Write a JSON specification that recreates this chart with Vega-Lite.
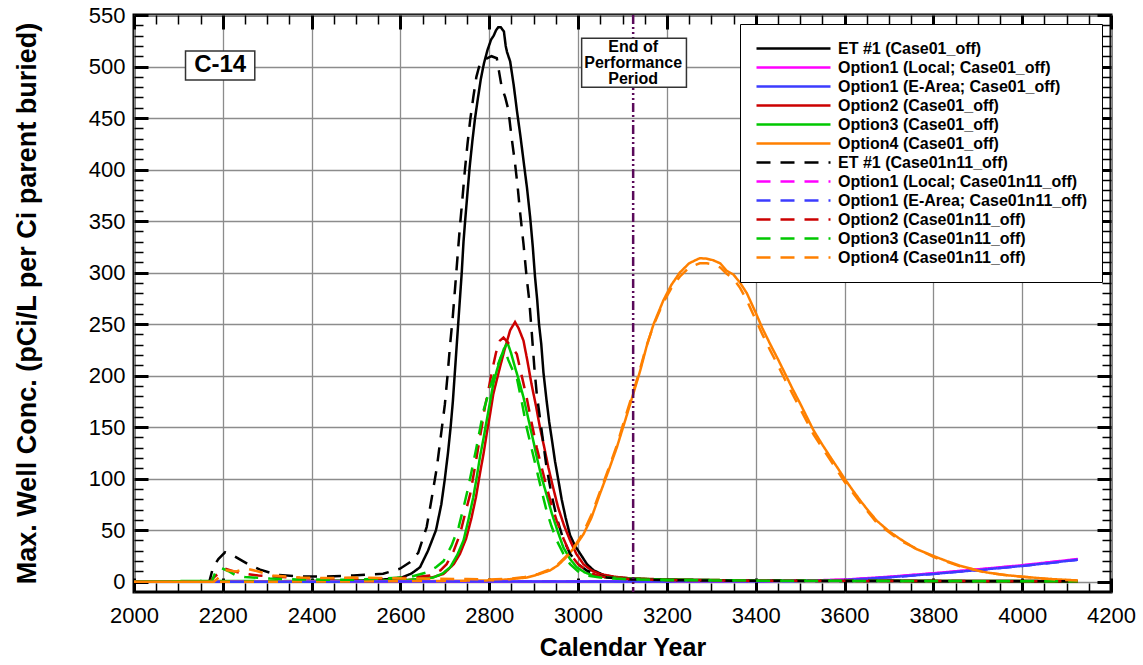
{
"$schema":"https://vega.github.io/schema/vega-lite/v6.json",
"width":977,"height":577,
"autosize":{"type":"none"},
"padding":{"left":134,"top":15,"right":32,"bottom":73},
"background":"white",
"config":{"view":{"stroke":"black","strokeWidth":3},"font":"Liberation Sans"},
"resolve":{"axis":{"x":"independent","y":"independent"}},
"layer":[
{"data":{"values":[
{"s":"ET #1 (Case01_off)","x":2000,"y":0},{"s":"ET #1 (Case01_off)","x":2100,"y":0},{"s":"ET #1 (Case01_off)","x":2200,"y":0.2},{"s":"ET #1 (Case01_off)","x":2300,"y":0.4},{"s":"ET #1 (Case01_off)","x":2400,"y":0.6},{"s":"ET #1 (Case01_off)","x":2500,"y":1},{"s":"ET #1 (Case01_off)","x":2550,"y":1.8},{"s":"ET #1 (Case01_off)","x":2580,"y":2.8},{"s":"ET #1 (Case01_off)","x":2603,"y":4},{"s":"ET #1 (Case01_off)","x":2625,"y":8},{"s":"ET #1 (Case01_off)","x":2644,"y":14},{"s":"ET #1 (Case01_off)","x":2662,"y":30},{"s":"ET #1 (Case01_off)","x":2680,"y":50},{"s":"ET #1 (Case01_off)","x":2692,"y":75},{"s":"ET #1 (Case01_off)","x":2700,"y":100},{"s":"ET #1 (Case01_off)","x":2707,"y":125},{"s":"ET #1 (Case01_off)","x":2713,"y":150},{"s":"ET #1 (Case01_off)","x":2718,"y":175},{"s":"ET #1 (Case01_off)","x":2722,"y":200},{"s":"ET #1 (Case01_off)","x":2726,"y":225},{"s":"ET #1 (Case01_off)","x":2730,"y":250},{"s":"ET #1 (Case01_off)","x":2734,"y":275},{"s":"ET #1 (Case01_off)","x":2738,"y":300},{"s":"ET #1 (Case01_off)","x":2742,"y":330},{"s":"ET #1 (Case01_off)","x":2746,"y":352},{"s":"ET #1 (Case01_off)","x":2751,"y":378},{"s":"ET #1 (Case01_off)","x":2756,"y":403},{"s":"ET #1 (Case01_off)","x":2762,"y":428},{"s":"ET #1 (Case01_off)","x":2768,"y":450},{"s":"ET #1 (Case01_off)","x":2774,"y":468},{"s":"ET #1 (Case01_off)","x":2781,"y":488},{"s":"ET #1 (Case01_off)","x":2788,"y":503},{"s":"ET #1 (Case01_off)","x":2796,"y":516},{"s":"ET #1 (Case01_off)","x":2804,"y":526},{"s":"ET #1 (Case01_off)","x":2810,"y":530},{"s":"ET #1 (Case01_off)","x":2815,"y":535},{"s":"ET #1 (Case01_off)","x":2820,"y":538},{"s":"ET #1 (Case01_off)","x":2826,"y":538},{"s":"ET #1 (Case01_off)","x":2833,"y":534},{"s":"ET #1 (Case01_off)","x":2837,"y":520},{"s":"ET #1 (Case01_off)","x":2840,"y":514},{"s":"ET #1 (Case01_off)","x":2847,"y":505},{"s":"ET #1 (Case01_off)","x":2855,"y":482},{"s":"ET #1 (Case01_off)","x":2862,"y":458},{"s":"ET #1 (Case01_off)","x":2870,"y":433},{"s":"ET #1 (Case01_off)","x":2877,"y":409},{"s":"ET #1 (Case01_off)","x":2885,"y":382},{"s":"ET #1 (Case01_off)","x":2892,"y":354},{"s":"ET #1 (Case01_off)","x":2898,"y":325},{"s":"ET #1 (Case01_off)","x":2903,"y":296},{"s":"ET #1 (Case01_off)","x":2908,"y":273},{"s":"ET #1 (Case01_off)","x":2912,"y":250},{"s":"ET #1 (Case01_off)","x":2917,"y":231},{"s":"ET #1 (Case01_off)","x":2922,"y":203},{"s":"ET #1 (Case01_off)","x":2929,"y":176},{"s":"ET #1 (Case01_off)","x":2935,"y":155},{"s":"ET #1 (Case01_off)","x":2942,"y":135},{"s":"ET #1 (Case01_off)","x":2948,"y":117},{"s":"ET #1 (Case01_off)","x":2955,"y":100},{"s":"ET #1 (Case01_off)","x":2963,"y":80},{"s":"ET #1 (Case01_off)","x":2972,"y":62},{"s":"ET #1 (Case01_off)","x":2982,"y":45},{"s":"ET #1 (Case01_off)","x":2993,"y":35},{"s":"ET #1 (Case01_off)","x":3005,"y":27},{"s":"ET #1 (Case01_off)","x":3020,"y":17},{"s":"ET #1 (Case01_off)","x":3035,"y":11},{"s":"ET #1 (Case01_off)","x":3060,"y":6},{"s":"ET #1 (Case01_off)","x":3087,"y":4},{"s":"ET #1 (Case01_off)","x":3150,"y":2.5},{"s":"ET #1 (Case01_off)","x":3300,"y":1.5},{"s":"ET #1 (Case01_off)","x":3500,"y":1},{"s":"ET #1 (Case01_off)","x":3800,"y":0.8},{"s":"ET #1 (Case01_off)","x":4125,"y":0.5},
{"s":"Option1 (Local; Case01_off)","x":2000,"y":0},{"s":"Option1 (Local; Case01_off)","x":2200,"y":0},{"s":"Option1 (Local; Case01_off)","x":2600,"y":0.1},{"s":"Option1 (Local; Case01_off)","x":3000,"y":0.3},{"s":"Option1 (Local; Case01_off)","x":3200,"y":0.4},{"s":"Option1 (Local; Case01_off)","x":3400,"y":0.6},{"s":"Option1 (Local; Case01_off)","x":3500,"y":1},{"s":"Option1 (Local; Case01_off)","x":3600,"y":2},{"s":"Option1 (Local; Case01_off)","x":3700,"y":4.8},{"s":"Option1 (Local; Case01_off)","x":3800,"y":8.2},{"s":"Option1 (Local; Case01_off)","x":3900,"y":12},{"s":"Option1 (Local; Case01_off)","x":4000,"y":16},{"s":"Option1 (Local; Case01_off)","x":4063,"y":19},{"s":"Option1 (Local; Case01_off)","x":4125,"y":22},
{"s":"Option1 (E-Area; Case01_off)","x":2000,"y":0},{"s":"Option1 (E-Area; Case01_off)","x":2200,"y":0},{"s":"Option1 (E-Area; Case01_off)","x":2600,"y":0.1},{"s":"Option1 (E-Area; Case01_off)","x":3000,"y":0.2},{"s":"Option1 (E-Area; Case01_off)","x":3200,"y":0.3},{"s":"Option1 (E-Area; Case01_off)","x":3400,"y":0.5},{"s":"Option1 (E-Area; Case01_off)","x":3500,"y":0.8},{"s":"Option1 (E-Area; Case01_off)","x":3600,"y":1.6},{"s":"Option1 (E-Area; Case01_off)","x":3700,"y":4.3},{"s":"Option1 (E-Area; Case01_off)","x":3800,"y":7.6},{"s":"Option1 (E-Area; Case01_off)","x":3900,"y":11.3},{"s":"Option1 (E-Area; Case01_off)","x":4000,"y":15.3},{"s":"Option1 (E-Area; Case01_off)","x":4063,"y":18.3},{"s":"Option1 (E-Area; Case01_off)","x":4125,"y":21.3},
{"s":"Option2 (Case01_off)","x":2000,"y":0},{"s":"Option2 (Case01_off)","x":2300,"y":0.2},{"s":"Option2 (Case01_off)","x":2500,"y":0.5},{"s":"Option2 (Case01_off)","x":2600,"y":1},{"s":"Option2 (Case01_off)","x":2644,"y":2.6},{"s":"Option2 (Case01_off)","x":2670,"y":4},{"s":"Option2 (Case01_off)","x":2697,"y":7.5},{"s":"Option2 (Case01_off)","x":2720,"y":17},{"s":"Option2 (Case01_off)","x":2734,"y":27},{"s":"Option2 (Case01_off)","x":2748,"y":42},{"s":"Option2 (Case01_off)","x":2760,"y":62},{"s":"Option2 (Case01_off)","x":2770,"y":82},{"s":"Option2 (Case01_off)","x":2779,"y":105},{"s":"Option2 (Case01_off)","x":2787,"y":124},{"s":"Option2 (Case01_off)","x":2794,"y":143},{"s":"Option2 (Case01_off)","x":2802,"y":163},{"s":"Option2 (Case01_off)","x":2809,"y":182},{"s":"Option2 (Case01_off)","x":2817,"y":196},{"s":"Option2 (Case01_off)","x":2824,"y":208},{"s":"Option2 (Case01_off)","x":2835,"y":226},{"s":"Option2 (Case01_off)","x":2847,"y":244},{"s":"Option2 (Case01_off)","x":2858,"y":252},{"s":"Option2 (Case01_off)","x":2866,"y":246},{"s":"Option2 (Case01_off)","x":2877,"y":234},{"s":"Option2 (Case01_off)","x":2886,"y":214},{"s":"Option2 (Case01_off)","x":2895,"y":192},{"s":"Option2 (Case01_off)","x":2905,"y":171},{"s":"Option2 (Case01_off)","x":2914,"y":150},{"s":"Option2 (Case01_off)","x":2924,"y":130},{"s":"Option2 (Case01_off)","x":2933,"y":111},{"s":"Option2 (Case01_off)","x":2944,"y":91},{"s":"Option2 (Case01_off)","x":2955,"y":72},{"s":"Option2 (Case01_off)","x":2968,"y":55},{"s":"Option2 (Case01_off)","x":2982,"y":40},{"s":"Option2 (Case01_off)","x":2996,"y":27},{"s":"Option2 (Case01_off)","x":3012,"y":17},{"s":"Option2 (Case01_off)","x":3030,"y":11},{"s":"Option2 (Case01_off)","x":3049,"y":7.5},{"s":"Option2 (Case01_off)","x":3080,"y":5},{"s":"Option2 (Case01_off)","x":3109,"y":3.5},{"s":"Option2 (Case01_off)","x":3200,"y":2},{"s":"Option2 (Case01_off)","x":3400,"y":1.2},{"s":"Option2 (Case01_off)","x":3800,"y":0.7},{"s":"Option2 (Case01_off)","x":4125,"y":0.5},
{"s":"Option3 (Case01_off)","x":2000,"y":0},{"s":"Option3 (Case01_off)","x":2150,"y":0.8},{"s":"Option3 (Case01_off)","x":2300,"y":0.5},{"s":"Option3 (Case01_off)","x":2500,"y":0.8},{"s":"Option3 (Case01_off)","x":2600,"y":1.2},{"s":"Option3 (Case01_off)","x":2640,"y":2.5},{"s":"Option3 (Case01_off)","x":2674,"y":4},{"s":"Option3 (Case01_off)","x":2695,"y":8},{"s":"Option3 (Case01_off)","x":2712,"y":14},{"s":"Option3 (Case01_off)","x":2728,"y":26},{"s":"Option3 (Case01_off)","x":2742,"y":40},{"s":"Option3 (Case01_off)","x":2753,"y":60},{"s":"Option3 (Case01_off)","x":2764,"y":82},{"s":"Option3 (Case01_off)","x":2772,"y":102},{"s":"Option3 (Case01_off)","x":2779,"y":121},{"s":"Option3 (Case01_off)","x":2787,"y":139},{"s":"Option3 (Case01_off)","x":2794,"y":156},{"s":"Option3 (Case01_off)","x":2802,"y":175},{"s":"Option3 (Case01_off)","x":2809,"y":192},{"s":"Option3 (Case01_off)","x":2817,"y":205},{"s":"Option3 (Case01_off)","x":2824,"y":215},{"s":"Option3 (Case01_off)","x":2833,"y":226},{"s":"Option3 (Case01_off)","x":2841,"y":232},{"s":"Option3 (Case01_off)","x":2849,"y":222},{"s":"Option3 (Case01_off)","x":2858,"y":208},{"s":"Option3 (Case01_off)","x":2867,"y":195},{"s":"Option3 (Case01_off)","x":2877,"y":179},{"s":"Option3 (Case01_off)","x":2888,"y":158},{"s":"Option3 (Case01_off)","x":2899,"y":137},{"s":"Option3 (Case01_off)","x":2908,"y":119},{"s":"Option3 (Case01_off)","x":2918,"y":101},{"s":"Option3 (Case01_off)","x":2930,"y":83},{"s":"Option3 (Case01_off)","x":2941,"y":66},{"s":"Option3 (Case01_off)","x":2954,"y":49},{"s":"Option3 (Case01_off)","x":2967,"y":33},{"s":"Option3 (Case01_off)","x":2982,"y":22},{"s":"Option3 (Case01_off)","x":2997,"y":14},{"s":"Option3 (Case01_off)","x":3015,"y":9},{"s":"Option3 (Case01_off)","x":3035,"y":6},{"s":"Option3 (Case01_off)","x":3070,"y":4},{"s":"Option3 (Case01_off)","x":3120,"y":3},{"s":"Option3 (Case01_off)","x":3200,"y":2},{"s":"Option3 (Case01_off)","x":3400,"y":1.2},{"s":"Option3 (Case01_off)","x":3800,"y":0.7},{"s":"Option3 (Case01_off)","x":4125,"y":0.5},
{"s":"Option4 (Case01_off)","x":2000,"y":0},{"s":"Option4 (Case01_off)","x":2300,"y":0},{"s":"Option4 (Case01_off)","x":2500,"y":0.3},{"s":"Option4 (Case01_off)","x":2700,"y":0.8},{"s":"Option4 (Case01_off)","x":2800,"y":1.3},{"s":"Option4 (Case01_off)","x":2824,"y":1.6},{"s":"Option4 (Case01_off)","x":2860,"y":3},{"s":"Option4 (Case01_off)","x":2884,"y":4},{"s":"Option4 (Case01_off)","x":2910,"y":7},{"s":"Option4 (Case01_off)","x":2937,"y":11},{"s":"Option4 (Case01_off)","x":2955,"y":16},{"s":"Option4 (Case01_off)","x":2974,"y":24},{"s":"Option4 (Case01_off)","x":2993,"y":34},{"s":"Option4 (Case01_off)","x":3012,"y":46},{"s":"Option4 (Case01_off)","x":3030,"y":62},{"s":"Option4 (Case01_off)","x":3049,"y":85},{"s":"Option4 (Case01_off)","x":3068,"y":107},{"s":"Option4 (Case01_off)","x":3087,"y":130},{"s":"Option4 (Case01_off)","x":3105,"y":155},{"s":"Option4 (Case01_off)","x":3124,"y":182},{"s":"Option4 (Case01_off)","x":3140,"y":205},{"s":"Option4 (Case01_off)","x":3154,"y":228},{"s":"Option4 (Case01_off)","x":3170,"y":250},{"s":"Option4 (Case01_off)","x":3192,"y":273},{"s":"Option4 (Case01_off)","x":3210,"y":288},{"s":"Option4 (Case01_off)","x":3229,"y":300},{"s":"Option4 (Case01_off)","x":3250,"y":309},{"s":"Option4 (Case01_off)","x":3274,"y":314},{"s":"Option4 (Case01_off)","x":3290,"y":313.5},{"s":"Option4 (Case01_off)","x":3304,"y":312},{"s":"Option4 (Case01_off)","x":3320,"y":309},{"s":"Option4 (Case01_off)","x":3334,"y":302},{"s":"Option4 (Case01_off)","x":3350,"y":298},{"s":"Option4 (Case01_off)","x":3365,"y":290},{"s":"Option4 (Case01_off)","x":3380,"y":280},{"s":"Option4 (Case01_off)","x":3399,"y":262},{"s":"Option4 (Case01_off)","x":3415,"y":246},{"s":"Option4 (Case01_off)","x":3432,"y":231},{"s":"Option4 (Case01_off)","x":3450,"y":216},{"s":"Option4 (Case01_off)","x":3466,"y":202},{"s":"Option4 (Case01_off)","x":3483,"y":187},{"s":"Option4 (Case01_off)","x":3500,"y":173},{"s":"Option4 (Case01_off)","x":3515,"y":160},{"s":"Option4 (Case01_off)","x":3530,"y":147},{"s":"Option4 (Case01_off)","x":3550,"y":133},{"s":"Option4 (Case01_off)","x":3568,"y":121},{"s":"Option4 (Case01_off)","x":3585,"y":110},{"s":"Option4 (Case01_off)","x":3600,"y":100},{"s":"Option4 (Case01_off)","x":3618,"y":89},{"s":"Option4 (Case01_off)","x":3635,"y":79},{"s":"Option4 (Case01_off)","x":3655,"y":68},{"s":"Option4 (Case01_off)","x":3673,"y":59},{"s":"Option4 (Case01_off)","x":3700,"y":49},{"s":"Option4 (Case01_off)","x":3725,"y":41.5},{"s":"Option4 (Case01_off)","x":3760,"y":32},{"s":"Option4 (Case01_off)","x":3800,"y":25},{"s":"Option4 (Case01_off)","x":3830,"y":20},{"s":"Option4 (Case01_off)","x":3860,"y":15.5},{"s":"Option4 (Case01_off)","x":3890,"y":12},{"s":"Option4 (Case01_off)","x":3920,"y":9},{"s":"Option4 (Case01_off)","x":3960,"y":6.5},{"s":"Option4 (Case01_off)","x":4000,"y":4.9},{"s":"Option4 (Case01_off)","x":4063,"y":2.6},{"s":"Option4 (Case01_off)","x":4125,"y":1.2},
{"s":"ET #1 (Case01n11_off)","x":2000,"y":0},{"s":"ET #1 (Case01n11_off)","x":2100,"y":0},{"s":"ET #1 (Case01n11_off)","x":2170,"y":0.5},{"s":"ET #1 (Case01n11_off)","x":2178,"y":14},{"s":"ET #1 (Case01n11_off)","x":2190,"y":22},{"s":"ET #1 (Case01n11_off)","x":2205,"y":28.5},{"s":"ET #1 (Case01n11_off)","x":2227,"y":24.5},{"s":"ET #1 (Case01n11_off)","x":2245,"y":20},{"s":"ET #1 (Case01n11_off)","x":2261,"y":16},{"s":"ET #1 (Case01n11_off)","x":2284,"y":11.7},{"s":"ET #1 (Case01n11_off)","x":2321,"y":6.8},{"s":"ET #1 (Case01n11_off)","x":2374,"y":5.1},{"s":"ET #1 (Case01n11_off)","x":2426,"y":5},{"s":"ET #1 (Case01n11_off)","x":2494,"y":6},{"s":"ET #1 (Case01n11_off)","x":2561,"y":7.7},{"s":"ET #1 (Case01n11_off)","x":2599,"y":12.6},{"s":"ET #1 (Case01n11_off)","x":2622,"y":19},{"s":"ET #1 (Case01n11_off)","x":2640,"y":28},{"s":"ET #1 (Case01n11_off)","x":2659,"y":53},{"s":"ET #1 (Case01n11_off)","x":2670,"y":80},{"s":"ET #1 (Case01n11_off)","x":2682,"y":111},{"s":"ET #1 (Case01n11_off)","x":2692,"y":145},{"s":"ET #1 (Case01n11_off)","x":2700,"y":172},{"s":"ET #1 (Case01n11_off)","x":2706,"y":200},{"s":"ET #1 (Case01n11_off)","x":2712,"y":231},{"s":"ET #1 (Case01n11_off)","x":2718,"y":258},{"s":"ET #1 (Case01n11_off)","x":2723,"y":285},{"s":"ET #1 (Case01n11_off)","x":2729,"y":318},{"s":"ET #1 (Case01n11_off)","x":2734,"y":345},{"s":"ET #1 (Case01n11_off)","x":2740,"y":374},{"s":"ET #1 (Case01n11_off)","x":2745,"y":399},{"s":"ET #1 (Case01n11_off)","x":2751,"y":425},{"s":"ET #1 (Case01n11_off)","x":2757,"y":448},{"s":"ET #1 (Case01n11_off)","x":2764,"y":470},{"s":"ET #1 (Case01n11_off)","x":2771,"y":490},{"s":"ET #1 (Case01n11_off)","x":2779,"y":503},{"s":"ET #1 (Case01n11_off)","x":2786,"y":505},{"s":"ET #1 (Case01n11_off)","x":2795,"y":508},{"s":"ET #1 (Case01n11_off)","x":2805,"y":510},{"s":"ET #1 (Case01n11_off)","x":2817,"y":508},{"s":"ET #1 (Case01n11_off)","x":2822,"y":495},{"s":"ET #1 (Case01n11_off)","x":2828,"y":480},{"s":"ET #1 (Case01n11_off)","x":2836,"y":470},{"s":"ET #1 (Case01n11_off)","x":2843,"y":458},{"s":"ET #1 (Case01n11_off)","x":2850,"y":432},{"s":"ET #1 (Case01n11_off)","x":2858,"y":406},{"s":"ET #1 (Case01n11_off)","x":2864,"y":383},{"s":"ET #1 (Case01n11_off)","x":2869,"y":360},{"s":"ET #1 (Case01n11_off)","x":2877,"y":328},{"s":"ET #1 (Case01n11_off)","x":2884,"y":296},{"s":"ET #1 (Case01n11_off)","x":2890,"y":273},{"s":"ET #1 (Case01n11_off)","x":2896,"y":240},{"s":"ET #1 (Case01n11_off)","x":2902,"y":205},{"s":"ET #1 (Case01n11_off)","x":2907,"y":182},{"s":"ET #1 (Case01n11_off)","x":2911,"y":169},{"s":"ET #1 (Case01n11_off)","x":2920,"y":140},{"s":"ET #1 (Case01n11_off)","x":2929,"y":111},{"s":"ET #1 (Case01n11_off)","x":2940,"y":85},{"s":"ET #1 (Case01n11_off)","x":2952,"y":62},{"s":"ET #1 (Case01n11_off)","x":2966,"y":42},{"s":"ET #1 (Case01n11_off)","x":2982,"y":27},{"s":"ET #1 (Case01n11_off)","x":3000,"y":17},{"s":"ET #1 (Case01n11_off)","x":3019,"y":11},{"s":"ET #1 (Case01n11_off)","x":3040,"y":7},{"s":"ET #1 (Case01n11_off)","x":3064,"y":4},{"s":"ET #1 (Case01n11_off)","x":3120,"y":2.2},{"s":"ET #1 (Case01n11_off)","x":3200,"y":1.4},{"s":"ET #1 (Case01n11_off)","x":3400,"y":0.9},{"s":"ET #1 (Case01n11_off)","x":3800,"y":0.5},{"s":"ET #1 (Case01n11_off)","x":4125,"y":0.3},
{"s":"Option1 (Local; Case01n11_off)","x":2000,"y":0},{"s":"Option1 (Local; Case01n11_off)","x":2200,"y":0},{"s":"Option1 (Local; Case01n11_off)","x":2600,"y":0.1},{"s":"Option1 (Local; Case01n11_off)","x":3000,"y":0.3},{"s":"Option1 (Local; Case01n11_off)","x":3200,"y":0.4},{"s":"Option1 (Local; Case01n11_off)","x":3400,"y":0.6},{"s":"Option1 (Local; Case01n11_off)","x":3500,"y":1},{"s":"Option1 (Local; Case01n11_off)","x":3600,"y":1.9},{"s":"Option1 (Local; Case01n11_off)","x":3700,"y":4.6},{"s":"Option1 (Local; Case01n11_off)","x":3800,"y":8},{"s":"Option1 (Local; Case01n11_off)","x":3900,"y":11.8},{"s":"Option1 (Local; Case01n11_off)","x":4000,"y":15.8},{"s":"Option1 (Local; Case01n11_off)","x":4063,"y":18.8},{"s":"Option1 (Local; Case01n11_off)","x":4125,"y":21.8},
{"s":"Option1 (E-Area; Case01n11_off)","x":2000,"y":0},{"s":"Option1 (E-Area; Case01n11_off)","x":2200,"y":0},{"s":"Option1 (E-Area; Case01n11_off)","x":2600,"y":0.1},{"s":"Option1 (E-Area; Case01n11_off)","x":3000,"y":0.2},{"s":"Option1 (E-Area; Case01n11_off)","x":3200,"y":0.3},{"s":"Option1 (E-Area; Case01n11_off)","x":3400,"y":0.5},{"s":"Option1 (E-Area; Case01n11_off)","x":3500,"y":0.8},{"s":"Option1 (E-Area; Case01n11_off)","x":3600,"y":1.5},{"s":"Option1 (E-Area; Case01n11_off)","x":3700,"y":4.2},{"s":"Option1 (E-Area; Case01n11_off)","x":3800,"y":7.5},{"s":"Option1 (E-Area; Case01n11_off)","x":3900,"y":11.2},{"s":"Option1 (E-Area; Case01n11_off)","x":4000,"y":15.2},{"s":"Option1 (E-Area; Case01n11_off)","x":4063,"y":18.2},{"s":"Option1 (E-Area; Case01n11_off)","x":4125,"y":21.2},
{"s":"Option2 (Case01n11_off)","x":2000,"y":0},{"s":"Option2 (Case01n11_off)","x":2170,"y":0},{"s":"Option2 (Case01n11_off)","x":2182,"y":5},{"s":"Option2 (Case01n11_off)","x":2190,"y":8},{"s":"Option2 (Case01n11_off)","x":2205,"y":12.6},{"s":"Option2 (Case01n11_off)","x":2225,"y":10},{"s":"Option2 (Case01n11_off)","x":2246,"y":8},{"s":"Option2 (Case01n11_off)","x":2280,"y":6},{"s":"Option2 (Case01n11_off)","x":2313,"y":5},{"s":"Option2 (Case01n11_off)","x":2374,"y":3.5},{"s":"Option2 (Case01n11_off)","x":2450,"y":3},{"s":"Option2 (Case01n11_off)","x":2550,"y":3},{"s":"Option2 (Case01n11_off)","x":2620,"y":4},{"s":"Option2 (Case01n11_off)","x":2667,"y":6},{"s":"Option2 (Case01n11_off)","x":2690,"y":11},{"s":"Option2 (Case01n11_off)","x":2704,"y":17},{"s":"Option2 (Case01n11_off)","x":2720,"y":30},{"s":"Option2 (Case01n11_off)","x":2734,"y":46},{"s":"Option2 (Case01n11_off)","x":2745,"y":65},{"s":"Option2 (Case01n11_off)","x":2757,"y":85},{"s":"Option2 (Case01n11_off)","x":2766,"y":107},{"s":"Option2 (Case01n11_off)","x":2775,"y":130},{"s":"Option2 (Case01n11_off)","x":2783,"y":150},{"s":"Option2 (Case01n11_off)","x":2790,"y":169},{"s":"Option2 (Case01n11_off)","x":2798,"y":186},{"s":"Option2 (Case01n11_off)","x":2805,"y":202},{"s":"Option2 (Case01n11_off)","x":2815,"y":222},{"s":"Option2 (Case01n11_off)","x":2824,"y":234},{"s":"Option2 (Case01n11_off)","x":2832,"y":237},{"s":"Option2 (Case01n11_off)","x":2840,"y":233},{"s":"Option2 (Case01n11_off)","x":2850,"y":228},{"s":"Option2 (Case01n11_off)","x":2862,"y":221},{"s":"Option2 (Case01n11_off)","x":2873,"y":200},{"s":"Option2 (Case01n11_off)","x":2884,"y":179},{"s":"Option2 (Case01n11_off)","x":2895,"y":155},{"s":"Option2 (Case01n11_off)","x":2907,"y":130},{"s":"Option2 (Case01n11_off)","x":2918,"y":111},{"s":"Option2 (Case01n11_off)","x":2929,"y":92},{"s":"Option2 (Case01n11_off)","x":2940,"y":75},{"s":"Option2 (Case01n11_off)","x":2952,"y":59},{"s":"Option2 (Case01n11_off)","x":2967,"y":42},{"s":"Option2 (Case01n11_off)","x":2982,"y":27},{"s":"Option2 (Case01n11_off)","x":3000,"y":17},{"s":"Option2 (Case01n11_off)","x":3019,"y":11},{"s":"Option2 (Case01n11_off)","x":3040,"y":6.5},{"s":"Option2 (Case01n11_off)","x":3064,"y":4},{"s":"Option2 (Case01n11_off)","x":3120,"y":2.5},{"s":"Option2 (Case01n11_off)","x":3200,"y":1.5},{"s":"Option2 (Case01n11_off)","x":3400,"y":1},{"s":"Option2 (Case01n11_off)","x":3800,"y":0.6},{"s":"Option2 (Case01n11_off)","x":4125,"y":0.4},
{"s":"Option3 (Case01n11_off)","x":2000,"y":0},{"s":"Option3 (Case01n11_off)","x":2175,"y":0.5},{"s":"Option3 (Case01n11_off)","x":2186,"y":11.7},{"s":"Option3 (Case01n11_off)","x":2197,"y":13.2},{"s":"Option3 (Case01n11_off)","x":2212,"y":10.4},{"s":"Option3 (Case01n11_off)","x":2230,"y":6},{"s":"Option3 (Case01n11_off)","x":2250,"y":4.5},{"s":"Option3 (Case01n11_off)","x":2306,"y":3},{"s":"Option3 (Case01n11_off)","x":2366,"y":2.2},{"s":"Option3 (Case01n11_off)","x":2430,"y":2},{"s":"Option3 (Case01n11_off)","x":2500,"y":2},{"s":"Option3 (Case01n11_off)","x":2561,"y":3},{"s":"Option3 (Case01n11_off)","x":2622,"y":4.5},{"s":"Option3 (Case01n11_off)","x":2659,"y":9},{"s":"Option3 (Case01n11_off)","x":2680,"y":14},{"s":"Option3 (Case01n11_off)","x":2697,"y":20},{"s":"Option3 (Case01n11_off)","x":2715,"y":35},{"s":"Option3 (Case01n11_off)","x":2731,"y":53},{"s":"Option3 (Case01n11_off)","x":2742,"y":72},{"s":"Option3 (Case01n11_off)","x":2753,"y":92},{"s":"Option3 (Case01n11_off)","x":2762,"y":111},{"s":"Option3 (Case01n11_off)","x":2771,"y":130},{"s":"Option3 (Case01n11_off)","x":2779,"y":148},{"s":"Option3 (Case01n11_off)","x":2787,"y":166},{"s":"Option3 (Case01n11_off)","x":2795,"y":178},{"s":"Option3 (Case01n11_off)","x":2802,"y":189},{"s":"Option3 (Case01n11_off)","x":2810,"y":199},{"s":"Option3 (Case01n11_off)","x":2817,"y":208},{"s":"Option3 (Case01n11_off)","x":2826,"y":218},{"s":"Option3 (Case01n11_off)","x":2835,"y":225},{"s":"Option3 (Case01n11_off)","x":2843,"y":215},{"s":"Option3 (Case01n11_off)","x":2852,"y":206},{"s":"Option3 (Case01n11_off)","x":2862,"y":198},{"s":"Option3 (Case01n11_off)","x":2873,"y":175},{"s":"Option3 (Case01n11_off)","x":2884,"y":150},{"s":"Option3 (Case01n11_off)","x":2896,"y":128},{"s":"Option3 (Case01n11_off)","x":2907,"y":108},{"s":"Option3 (Case01n11_off)","x":2918,"y":88},{"s":"Option3 (Case01n11_off)","x":2929,"y":69},{"s":"Option3 (Case01n11_off)","x":2940,"y":54},{"s":"Option3 (Case01n11_off)","x":2952,"y":40},{"s":"Option3 (Case01n11_off)","x":2967,"y":27},{"s":"Option3 (Case01n11_off)","x":2982,"y":17},{"s":"Option3 (Case01n11_off)","x":3000,"y":10},{"s":"Option3 (Case01n11_off)","x":3019,"y":6},{"s":"Option3 (Case01n11_off)","x":3050,"y":4},{"s":"Option3 (Case01n11_off)","x":3100,"y":2.5},{"s":"Option3 (Case01n11_off)","x":3200,"y":1.5},{"s":"Option3 (Case01n11_off)","x":3400,"y":1},{"s":"Option3 (Case01n11_off)","x":3800,"y":0.6},{"s":"Option3 (Case01n11_off)","x":4125,"y":0.4},
{"s":"Option4 (Case01n11_off)","x":2000,"y":0},{"s":"Option4 (Case01n11_off)","x":2180,"y":0},{"s":"Option4 (Case01n11_off)","x":2188,"y":3},{"s":"Option4 (Case01n11_off)","x":2194,"y":6},{"s":"Option4 (Case01n11_off)","x":2208,"y":11},{"s":"Option4 (Case01n11_off)","x":2230,"y":10},{"s":"Option4 (Case01n11_off)","x":2253,"y":12.6},{"s":"Option4 (Case01n11_off)","x":2276,"y":10.4},{"s":"Option4 (Case01n11_off)","x":2313,"y":6},{"s":"Option4 (Case01n11_off)","x":2374,"y":4},{"s":"Option4 (Case01n11_off)","x":2426,"y":3.5},{"s":"Option4 (Case01n11_off)","x":2494,"y":4},{"s":"Option4 (Case01n11_off)","x":2556,"y":3.5},{"s":"Option4 (Case01n11_off)","x":2650,"y":3},{"s":"Option4 (Case01n11_off)","x":2750,"y":2.5},{"s":"Option4 (Case01n11_off)","x":2800,"y":2.2},{"s":"Option4 (Case01n11_off)","x":2850,"y":3},{"s":"Option4 (Case01n11_off)","x":2880,"y":4.5},{"s":"Option4 (Case01n11_off)","x":2910,"y":7.5},{"s":"Option4 (Case01n11_off)","x":2937,"y":12},{"s":"Option4 (Case01n11_off)","x":2955,"y":17},{"s":"Option4 (Case01n11_off)","x":2974,"y":25},{"s":"Option4 (Case01n11_off)","x":2993,"y":35},{"s":"Option4 (Case01n11_off)","x":3012,"y":48},{"s":"Option4 (Case01n11_off)","x":3030,"y":65},{"s":"Option4 (Case01n11_off)","x":3049,"y":87},{"s":"Option4 (Case01n11_off)","x":3068,"y":109},{"s":"Option4 (Case01n11_off)","x":3087,"y":132},{"s":"Option4 (Case01n11_off)","x":3105,"y":158},{"s":"Option4 (Case01n11_off)","x":3124,"y":184},{"s":"Option4 (Case01n11_off)","x":3140,"y":207},{"s":"Option4 (Case01n11_off)","x":3154,"y":229},{"s":"Option4 (Case01n11_off)","x":3170,"y":249},{"s":"Option4 (Case01n11_off)","x":3192,"y":271},{"s":"Option4 (Case01n11_off)","x":3210,"y":285},{"s":"Option4 (Case01n11_off)","x":3229,"y":296},{"s":"Option4 (Case01n11_off)","x":3250,"y":305},{"s":"Option4 (Case01n11_off)","x":3274,"y":309},{"s":"Option4 (Case01n11_off)","x":3290,"y":309},{"s":"Option4 (Case01n11_off)","x":3304,"y":308},{"s":"Option4 (Case01n11_off)","x":3320,"y":305},{"s":"Option4 (Case01n11_off)","x":3334,"y":299},{"s":"Option4 (Case01n11_off)","x":3350,"y":294},{"s":"Option4 (Case01n11_off)","x":3365,"y":285},{"s":"Option4 (Case01n11_off)","x":3380,"y":273},{"s":"Option4 (Case01n11_off)","x":3399,"y":255},{"s":"Option4 (Case01n11_off)","x":3415,"y":240},{"s":"Option4 (Case01n11_off)","x":3432,"y":225},{"s":"Option4 (Case01n11_off)","x":3450,"y":210},{"s":"Option4 (Case01n11_off)","x":3466,"y":196},{"s":"Option4 (Case01n11_off)","x":3483,"y":182},{"s":"Option4 (Case01n11_off)","x":3500,"y":168},{"s":"Option4 (Case01n11_off)","x":3530,"y":143},{"s":"Option4 (Case01n11_off)","x":3568,"y":118},{"s":"Option4 (Case01n11_off)","x":3600,"y":97},{"s":"Option4 (Case01n11_off)","x":3635,"y":77},{"s":"Option4 (Case01n11_off)","x":3673,"y":57},{"s":"Option4 (Case01n11_off)","x":3725,"y":40},{"s":"Option4 (Case01n11_off)","x":3800,"y":24},{"s":"Option4 (Case01n11_off)","x":3860,"y":15},{"s":"Option4 (Case01n11_off)","x":3920,"y":8.7},{"s":"Option4 (Case01n11_off)","x":4000,"y":4.7},{"s":"Option4 (Case01n11_off)","x":4063,"y":2.5},{"s":"Option4 (Case01n11_off)","x":4125,"y":1.1}
]},
"mark":{"type":"line","strokeWidth":2.5},
"encoding":{
"x":{"field":"x","type":"quantitative","scale":{"domain":[2000,4200],"nice":false,"zero":false},
"axis":{"orient":"bottom","values":[2000,2050,2100,2150,2200,2250,2300,2350,2400,2450,2500,2550,2600,2650,2700,2750,2800,2850,2900,2950,3000,3050,3100,3150,3200,3250,3300,3350,3400,3450,3500,3550,3600,3650,3700,3750,3800,3850,3900,3950,4000,4050,4100,4150,4200],"format":"d","labelExpr":"datum.value % 200 === 0 ? datum.label : ''","labelOverlap":false,"labelFlush":false,"labelFontSize":22,"labelColor":"black","labelPadding":27,"domain":false,"tickColor":"black","tickSize":{"condition":{"test":"datum.value % 200 === 0","value":-14},"value":-9},"tickWidth":{"condition":{"test":"datum.value % 200 === 0","value":3},"value":1.5},"grid":true,"gridColor":"#8c8c8c","gridWidth":1.3,"gridOpacity":{"condition":{"test":"datum.value % 200 === 0","value":1},"value":0},"title":"Calendar Year","titleFontSize":25,"titleFontWeight":"bold","titleColor":"black","titleBaseline":"middle","titleY":55}},
"y":{"field":"y","type":"quantitative","scale":{"domain":[-10,550],"nice":false,"zero":false},
"axis":{"orient":"left","values":[0,10,20,30,40,50,60,70,80,90,100,110,120,130,140,150,160,170,180,190,200,210,220,230,240,250,260,270,280,290,300,310,320,330,340,350,360,370,380,390,400,410,420,430,440,450,460,470,480,490,500,510,520,530,540,550],"labelExpr":"datum.value % 50 === 0 ? datum.label : ''","labelOverlap":false,"labelFlush":false,"labelFontSize":22,"labelColor":"black","labelPadding":23,"domain":false,"tickColor":"black","tickSize":{"condition":{"test":"datum.value % 50 === 0","value":-14},"value":-9},"tickWidth":{"condition":{"test":"datum.value % 50 === 0","value":3},"value":1.5},"grid":true,"gridColor":"#8c8c8c","gridWidth":1.3,"gridOpacity":{"condition":{"test":"datum.value % 50 === 0","value":1},"value":0},"title":"Max. Well Conc. (pCi/L per Ci parent buried)","titleFontSize":27,"titleFontWeight":"bold","titleColor":"black","titleBaseline":"middle","titleX":-107,"titleY":288}},
"color":{"field":"s","type":"nominal","sort":null,
"scale":{"domain":["ET #1 (Case01_off)","Option1 (Local; Case01_off)","Option1 (E-Area; Case01_off)","Option2 (Case01_off)","Option3 (Case01_off)","Option4 (Case01_off)","ET #1 (Case01n11_off)","Option1 (Local; Case01n11_off)","Option1 (E-Area; Case01n11_off)","Option2 (Case01n11_off)","Option3 (Case01n11_off)","Option4 (Case01n11_off)"],
"range":["#000000","#ff00ff","#3c3cff","#cc0000","#00c800","#ff8000","#000000","#ff00ff","#3c3cff","#cc0000","#00c800","#ff8000"]},
"legend":{"title":null,"orient":"none","legendX":606,"legendY":9,"fillColor":"white","strokeColor":"black","padding":15,"labelFont":"Liberation Sans","labelFontWeight":"bold","labelFontSize":16,"labelColor":"black","labelLimit":500,"labelOffset":6,"symbolType":"stroke","symbolSize":5476,"symbolStrokeWidth":2.5,"clipHeight":19,"rowPadding":0}},
"strokeDash":{"field":"s","type":"nominal","sort":null,
"scale":{"domain":["ET #1 (Case01_off)","Option1 (Local; Case01_off)","Option1 (E-Area; Case01_off)","Option2 (Case01_off)","Option3 (Case01_off)","Option4 (Case01_off)","ET #1 (Case01n11_off)","Option1 (Local; Case01n11_off)","Option1 (E-Area; Case01n11_off)","Option2 (Case01n11_off)","Option3 (Case01n11_off)","Option4 (Case01n11_off)"],
"range":[[1,0],[1,0],[1,0],[1,0],[1,0],[1,0],[14,10],[14,10],[14,10],[14,10],[14,10],[14,10]]},
"legend":{"title":null,"orient":"none","legendX":606,"legendY":9,"fillColor":"white","strokeColor":"black","padding":15,"labelFont":"Liberation Sans","labelFontWeight":"bold","labelFontSize":16,"labelColor":"black","labelLimit":500,"labelOffset":6,"symbolType":"stroke","symbolSize":5476,"symbolStrokeWidth":2.5,"clipHeight":19,"rowPadding":0}}
}},
{"data":{"values":[{}]},
"mark":{"type":"rule","color":"#5a0a5a","strokeWidth":2.5,"strokeDash":[9,3,2,3,2,3]},
"encoding":{"x":{"datum":3124,"type":"quantitative","scale":{"domain":[2000,4200],"nice":false,"zero":false},"axis":null}}},
{"data":{"values":[{}]},
"mark":{"type":"rect","fill":"white","stroke":"#333333","strokeWidth":1.5},
"encoding":{
"x":{"datum":2116,"type":"quantitative","scale":{"domain":[2000,4200],"nice":false,"zero":false},
"axis":{"orient":"top","values":[2000,2050,2100,2150,2200,2250,2300,2350,2400,2450,2500,2550,2600,2650,2700,2750,2800,2850,2900,2950,3000,3050,3100,3150,3200,3250,3300,3350,3400,3450,3500,3550,3600,3650,3700,3750,3800,3850,3900,3950,4000,4050,4100,4150,4200],"labels":false,"domain":false,"grid":false,"title":null,"tickColor":"black","tickSize":{"condition":{"test":"datum.value % 200 === 0","value":-14},"value":-9},"tickWidth":{"condition":{"test":"datum.value % 200 === 0","value":3},"value":1.5}}},
"x2":{"datum":2272},
"y":{"datum":515,"type":"quantitative","scale":{"domain":[-10,550],"nice":false,"zero":false},
"axis":{"orient":"right","values":[0,10,20,30,40,50,60,70,80,90,100,110,120,130,140,150,160,170,180,190,200,210,220,230,240,250,260,270,280,290,300,310,320,330,340,350,360,370,380,390,400,410,420,430,440,450,460,470,480,490,500,510,520,530,540,550],"labels":false,"domain":false,"grid":false,"title":null,"tickColor":"black","tickSize":{"condition":{"test":"datum.value % 50 === 0","value":-14},"value":-9},"tickWidth":{"condition":{"test":"datum.value % 50 === 0","value":3},"value":1.5}}},
"y2":{"datum":487}}},
{"data":{"values":[{}]},
"mark":{"type":"text","text":"C-14","font":"Liberation Sans","fontWeight":"bold","fontSize":24,"align":"center","baseline":"middle","color":"black"},
"encoding":{"x":{"datum":2194,"type":"quantitative","scale":{"domain":[2000,4200],"nice":false,"zero":false},"axis":null},"y":{"datum":501,"type":"quantitative","scale":{"domain":[-10,550],"nice":false,"zero":false},"axis":null}}},
{"data":{"values":[{}]},
"mark":{"type":"rect","fill":"white","stroke":"#333333","strokeWidth":1.5},
"encoding":{"x":{"datum":3008,"type":"quantitative","scale":{"domain":[2000,4200],"nice":false,"zero":false},"axis":null},"x2":{"datum":3244},"y":{"datum":527.4,"type":"quantitative","scale":{"domain":[-10,550],"nice":false,"zero":false},"axis":null},"y2":{"datum":479.8}}},
{"data":{"values":[{}]},
"mark":{"type":"text","text":["End of","Performance","Period"],"font":"Liberation Sans","fontWeight":"bold","fontSize":16,"lineHeight":16,"align":"center","baseline":"middle","color":"black"},
"encoding":{"x":{"datum":3124,"type":"quantitative","scale":{"domain":[2000,4200],"nice":false,"zero":false},"axis":null},"y":{"datum":519.2,"type":"quantitative","scale":{"domain":[-10,550],"nice":false,"zero":false},"axis":null}}}
]
}
